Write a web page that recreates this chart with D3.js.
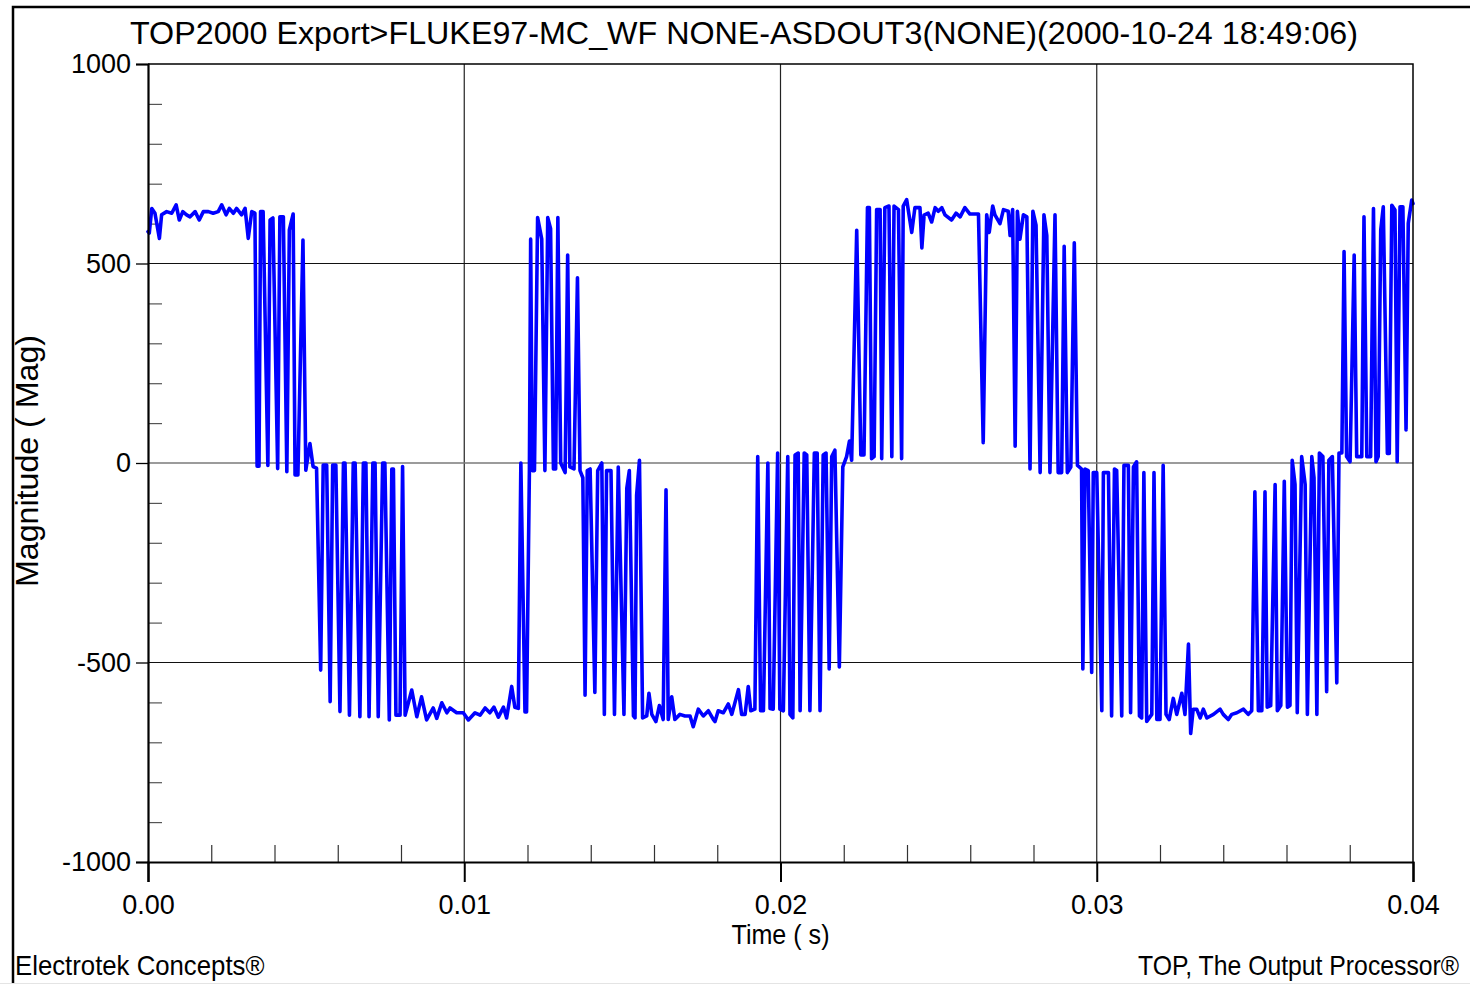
<!DOCTYPE html>
<html>
<head>
<meta charset="utf-8">
<script src="https://cdn.jsdelivr.net/npm/d3@7"></script>
<style>
  body { margin: 0; background: #fff; }
  svg { display: block; }
</style>
</head>
<body>
<div id="viz"></div>
<script>
const width = 1470;
const height = 984;
const margin = {top: 64, right: 57, bottom: 122, left: 148};
const fontFamily = "'Liberation Sans', Arial, sans-serif";
const lineColor = '#0000FF';

// Labels
const titleText = 'TOP2000 Export>FLUKE97-MC_WF NONE-ASDOUT3(NONE)(2000-10-24 18:49:06)';
const xTitle = 'Time ( s)';
const yTitle = 'Magnitude ( Mag)';
const footerLeft = 'Electrotek Concepts®';
const footerRight = 'TOP, The Output Processor®';

// Ticks
const xTicks = [0, 0.01, 0.02, 0.03, 0.04];
const xTickLabels = ['0.00', '0.01', '0.02', '0.03', '0.04'];
const xMinorTicks = [0.002, 0.004, 0.006, 0.008, 0.012, 0.014, 0.016, 0.018,
  0.022, 0.024, 0.026, 0.028, 0.032, 0.034, 0.036, 0.038];
const xGrid = [0.01, 0.02, 0.03];
const yTicks = [-1000, -500, 0, 500, 1000];
const yMinorTicks = [-900, -800, -700, -600, -400, -300, -200, -100,
  100, 200, 300, 400, 600, 700, 800, 900];
const yGrid = [-500, 500];

// Waveform: time in ms, magnitude
const timeMs = [
  0.00, 0.04, 0.12, 0.22, 0.36, 0.43, 0.59, 0.75, 0.89, 0.99, 1.10, 1.22, 1.33, 1.49, 1.62, 1.75,
  1.91, 2.06, 2.22, 2.33, 2.47, 2.57, 2.70, 2.80, 2.96, 3.07, 3.17, 3.28, 3.38, 3.45, 3.51, 3.56,
  3.64, 3.79, 3.86, 3.95, 4.10, 4.17, 4.28, 4.39, 4.47, 4.59, 4.65, 4.74, 4.90, 4.99, 5.12, 5.22,
  5.33, 5.46, 5.54, 5.65, 5.76, 5.84, 5.94, 6.07, 6.18, 6.23, 6.37, 6.49, 6.55, 6.70, 6.81, 6.89,
  6.99, 7.11, 7.18, 7.28, 7.42, 7.49, 7.63, 7.71, 7.76, 7.84, 7.97, 8.05, 8.13, 8.34, 8.50, 8.65,
  8.81, 9.02, 9.13, 9.29, 9.45, 9.55, 9.76, 9.97, 10.13, 10.34, 10.50, 10.66, 10.81, 10.94, 11.08, 11.24,
  11.34, 11.50, 11.60, 11.71, 11.79, 11.92, 11.97, 12.06, 12.10, 12.15, 12.22, 12.32, 12.45, 12.55, 12.64, 12.73,
  12.82, 12.89, 12.96, 13.05, 13.19, 13.27, 13.34, 13.47, 13.58, 13.66, 13.75, 13.82, 13.89, 13.98, 14.13, 14.22,
  14.35, 14.43, 14.50, 14.64, 14.75, 14.87, 15.05, 15.14, 15.22, 15.35, 15.40, 15.45, 15.54, 15.64, 15.77, 15.84,
  15.93, 16.06, 16.17, 16.29, 16.38, 16.45, 16.56, 16.66, 16.82, 16.98, 17.14, 17.24, 17.40, 17.56, 17.72, 17.88,
  17.93, 18.03, 18.19, 18.35, 18.46, 18.67, 18.77, 18.88, 18.98, 19.06, 19.19, 19.28, 19.37, 19.46, 19.60, 19.67,
  19.77, 19.91, 19.98, 20.09, 20.23, 20.30, 20.39, 20.46, 20.56, 20.62, 20.75, 20.83, 20.93, 21.07, 21.16, 21.25,
  21.35, 21.44, 21.54, 21.62, 21.72, 21.86, 21.97, 22.09, 22.18, 22.25, 22.41, 22.54, 22.64, 22.75, 22.81, 22.88,
  22.96, 23.04, 23.15, 23.20, 23.30, 23.43, 23.52, 23.59, 23.73, 23.83, 23.88, 23.99, 24.15, 24.25, 24.41, 24.47,
  24.54, 24.67, 24.78, 24.89, 24.99, 25.10, 25.20, 25.41, 25.55, 25.68, 25.83, 25.99, 26.26, 26.41, 26.52, 26.60,
  26.71, 26.78, 26.94, 27.05, 27.20, 27.26, 27.34, 27.42, 27.49, 27.57, 27.68, 27.79, 27.89, 27.98, 28.08, 28.21,
  28.33, 28.42, 28.52, 28.68, 28.78, 28.89, 28.97, 29.07, 29.18, 29.29, 29.39, 29.52, 29.56, 29.63, 29.73, 29.84,
  29.89, 30.00, 30.16, 30.21, 30.37, 30.47, 30.56, 30.63, 30.79, 30.86, 31.00, 31.07, 31.16, 31.26, 31.35, 31.42,
  31.49, 31.58, 31.74, 31.81, 31.90, 32.00, 32.10, 32.19, 32.29, 32.42, 32.53, 32.69, 32.79, 32.90, 32.97, 33.05,
  33.16, 33.27, 33.37, 33.48, 33.69, 33.90, 34.00, 34.16, 34.27, 34.43, 34.64, 34.79, 34.90, 35.00, 35.11, 35.22,
  35.32, 35.39, 35.50, 35.64, 35.71, 35.82, 35.93, 36.03, 36.11, 36.18, 36.27, 36.34, 36.48, 36.59, 36.66, 36.80,
  36.87, 36.96, 37.04, 37.15, 37.27, 37.34, 37.45, 37.59, 37.66, 37.75, 37.82, 37.90, 38.01, 38.14, 38.22, 38.38,
  38.45, 38.54, 38.66, 38.75, 38.83, 38.90, 38.98, 39.06, 39.19, 39.25, 39.33, 39.43, 39.50, 39.59, 39.68, 39.78,
  39.85, 39.96, 40.00
];
const magnitude = [
  580, 576, 638, 626, 563, 622, 630, 626, 647, 609, 630, 622, 617, 630, 609, 630,
  630, 626, 630, 647, 622, 638, 626, 638, 622, 638, 563, 630, 626, -8, -8, 630,
  630, -6, 609, 614, -14, 617, 617, -22, 584, 624, -30, -30, 559, -18, 49, -9,
  -13, -519, -5, -5, -598, -5, -5, -623, 0, 0, -632, 0, 0, -636, 0, 0,
  -636, 0, 0, -636, 0, 0, -644, -15, -15, -632, -632, -9, -632, -569, -636, -586,
  -644, -614, -640, -601, -626, -614, -626, -626, -644, -626, -632, -614, -626, -612, -637, -612,
  -639, -560, -612, -615, 0, -624, -624, -19, 561, -19, -19, 615, 561, -19, 615, 587,
  -15, -15, 615, 0, -24, 521, -10, -15, 464, -19, -37, -582, -19, -15, -575, -19,
  0, -630, -19, -19, -630, -10, -630, -63, -19, -634, -639, -81, 7, -639, -634, -577,
  -630, -648, -608, -643, -67, -643, -586, -643, -630, -634, -634, -661, -617, -634, -621, -643,
  -648, -621, -626, -604, -630, -568, -630, -630, -560, -621, -617, 16, -621, -621, 0, -615,
  -617, 25, -617, -621, 16, -630, -639, 20, 25, -621, 25, 20, -621, 25, 25, -621,
  20, 25, -516, 16, 32, -511, -10, 16, 55, 7, 583, 20, 20, 640, 640, 11,
  16, 635, 635, 11, 640, 644, 16, 644, 635, 11, 644, 660, 578, 640, 640, 539,
  621, 626, 604, 640, 631, 640, 622, 609, 626, 617, 640, 624, 624, 51, 622, 578,
  644, 622, 600, 635, 631, 570, 635, 42, 631, 561, 622, 617, -15, 631, 596, -24,
  622, 570, -24, 622, -24, -24, 543, -24, -10, 552, -6, -15, -516, -15, -19, -525,
  -24, -24, -621, -24, -24, -634, -15, -19, -634, -6, -6, -626, -10, 3, -634, -639,
  -24, -648, -630, -24, -643, -643, -6, -630, -643, -590, -630, -577, -630, -454, -678, -617,
  -617, -639, -617, -639, -630, -617, -630, -643, -630, -626, -617, -630, -621, -72, -621, -621,
  -72, -612, -608, -54, -621, -608, -46, -612, -608, 7, -54, -626, 16, -54, -630, 16,
  -37, -630, 25, 16, -573, 7, 16, -551, 25, 25, 530, 16, 3, 521, 16, 16,
  617, 16, 16, 638, 3, 16, 584, 642, 24, 24, 646, 634, 3, 642, 642, 83,
  601, 659, 650
];

const data = timeMs.map((t, i) => ({time: t / 1000, value: magnitude[i]}));

const svg = d3.select('#viz')
  .append('svg')
    .attr('width', width)
    .attr('height', height)
    .attr('viewBox', [0, 0, width, height])
    .style('font-family', fontFamily);

// Scales
const xScale = d3.scaleLinear()
  .domain([0, 0.04])
  .range([margin.left, width - margin.right]);
const yScale = d3.scaleLinear()
  .domain([-1000, 1000])
  .range([height - margin.bottom, margin.top]);

const plotLeft = margin.left;
const plotRight = width - margin.right;
const plotTop = margin.top;
const plotBottom = height - margin.bottom;

// Outer frame (right and bottom edges fall off the page)
svg.append('rect')
    .attr('x', 13)
    .attr('y', 7)
    .attr('width', 1490)
    .attr('height', 1010)
    .attr('fill', 'none')
    .attr('stroke', 'black')
    .attr('stroke-width', 2.5);
svg.append('line')
    .attr('x1', 0).attr('x2', width)
    .attr('y1', 983.5).attr('y2', 983.5)
    .attr('stroke', '#e4e4e4')
    .attr('stroke-width', 1);

// Grid
const grid = svg.append('g').attr('class', 'grid');
grid.selectAll('.vgrid')
  .data(xGrid)
  .join('line')
    .attr('class', 'vgrid')
    .attr('x1', d => xScale(d)).attr('x2', d => xScale(d))
    .attr('y1', plotTop).attr('y2', plotBottom)
    .attr('stroke', '#222')
    .attr('stroke-width', 1.2);
grid.selectAll('.hgrid')
  .data(yGrid)
  .join('line')
    .attr('class', 'hgrid')
    .attr('x1', plotLeft).attr('x2', plotRight)
    .attr('y1', d => yScale(d)).attr('y2', d => yScale(d))
    .attr('stroke', '#111')
    .attr('stroke-width', 1);
grid.append('line')
    .attr('x1', plotLeft).attr('x2', plotRight)
    .attr('y1', yScale(0)).attr('y2', yScale(0))
    .attr('stroke', '#7a7a7a')
    .attr('stroke-width', 1.5);

// Minor ticks, drawn inwards
svg.append('g')
    .attr('transform', `translate(${plotLeft},0)`)
    .call(d3.axisLeft(yScale).tickValues(yMinorTicks).tickSize(-14).tickFormat(''))
    .call(g => g.select('.domain').remove())
    .call(g => g.selectAll('line').attr('stroke', '#555').attr('stroke-width', 1.2));
svg.append('g')
    .attr('transform', `translate(0,${plotBottom})`)
    .call(d3.axisBottom(xScale).tickValues(xMinorTicks).tickSize(-17).tickFormat(''))
    .call(g => g.select('.domain').remove())
    .call(g => g.selectAll('line').attr('stroke', '#333').attr('stroke-width', 1.2));

// Waveform
const line = d3.line()
  .defined(d => !isNaN(d.value))
  .x(d => xScale(d.time))
  .y(d => yScale(d.value));
svg.append('path')
    .datum(data)
    .attr('d', line)
    .attr('fill', 'none')
    .attr('stroke', lineColor)
    .attr('stroke-width', 3.6)
    .attr('stroke-linejoin', 'round')
    .attr('stroke-linecap', 'round');

// Plot border top/right
svg.append('path')
    .attr('d', `M${plotLeft},${plotTop}H${plotRight}V${plotBottom}`)
    .attr('fill', 'none')
    .attr('stroke', 'black')
    .attr('stroke-width', 1.5);

// Major axes
svg.append('g')
    .attr('transform', `translate(${plotLeft},0)`)
    .call(d3.axisLeft(yScale).tickValues(yTicks).tickSize(12).tickPadding(5).tickFormat(d => d))
    .call(g => g.select('.domain').attr('stroke-width', 2.2))
    .call(g => g.selectAll('line').attr('stroke-width', 1.3))
    .call(g => g.selectAll('text')
      .attr('font-size', 27)
      .attr('font-family', fontFamily)
      .attr('fill', 'black'));

svg.append('g')
    .attr('transform', `translate(0,${plotBottom})`)
    .call(d3.axisBottom(xScale).tickValues(xTicks).tickSize(20).tickPadding(13)
      .tickFormat((d, i) => xTickLabels[i]))
    .call(g => g.select('.domain').attr('stroke-width', 2.2))
    .call(g => g.selectAll('line').attr('stroke-width', 2))
    .call(g => g.selectAll('text')
      .attr('font-size', 27)
      .attr('font-family', fontFamily)
      .attr('fill', 'black'));

// Titles
svg.append('text')
    .attr('x', 744)
    .attr('y', 44)
    .attr('text-anchor', 'middle')
    .attr('textLength', 1228)
    .attr('lengthAdjust', 'spacingAndGlyphs')
    .style('font-size', '32px')
    .text(titleText);

svg.append('text')
    .attr('x', (plotLeft + plotRight) / 2)
    .attr('y', 944)
    .attr('text-anchor', 'middle')
    .attr('textLength', 98)
    .attr('lengthAdjust', 'spacingAndGlyphs')
    .style('font-size', '28px')
    .text(xTitle);

svg.append('text')
    .attr('transform', `translate(38,${(plotTop + plotBottom) / 2 - 2}) rotate(-90)`)
    .attr('text-anchor', 'middle')
    .attr('textLength', 252)
    .attr('lengthAdjust', 'spacingAndGlyphs')
    .style('font-size', '32px')
    .text(yTitle);

// Footers, squeezed horizontally like the original export
svg.append('text')
    .attr('transform', 'translate(15,975) scale(0.92,1)')
    .style('font-size', '28px')
    .text(footerLeft);

svg.append('text')
    .attr('transform', 'translate(1138,975) scale(0.885,1)')
    .style('font-size', '28px')
    .text(footerRight);
</script>
</body>
</html>
